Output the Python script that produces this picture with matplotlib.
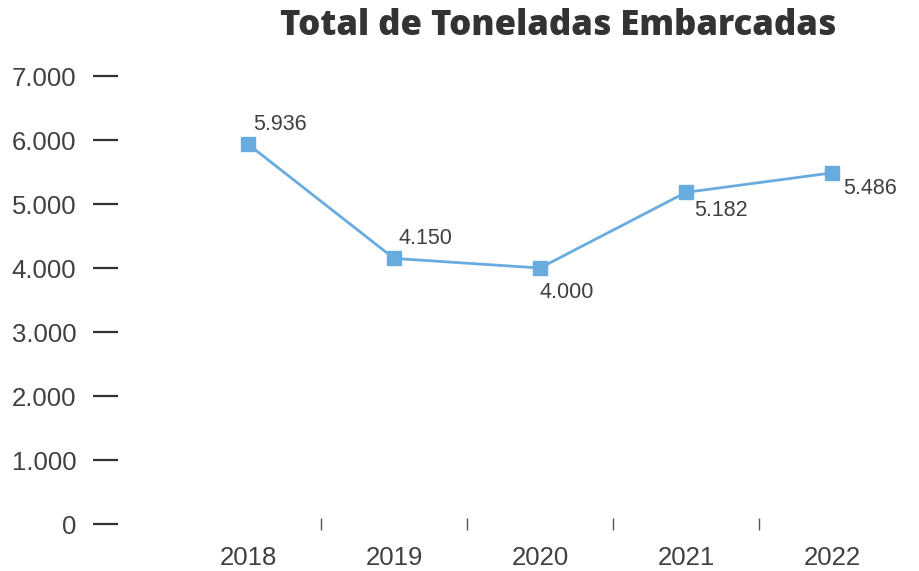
import matplotlib.pyplot as plt
from matplotlib.ticker import FuncFormatter, FixedLocator

anos = ['2018', '2019', '2020', '2021', '2022']
toneladas = [5936, 4150, 4000, 5182, 5486]
rotulos = ['5.936', '4.150', '4.000', '5.182', '5.486']
y_ticks = [0, 1000, 2000, 3000, 4000, 5000, 6000, 7000]

# deslocamento dos rótulos (pontos) em relação a cada marcador
offsets = [(4, 14), (3, 14), (0, -18), (6, -13), (8, -11)]

cor_linha = '#68ACDF'
cor_texto = '#404040'

fig = plt.figure(figsize=(9.2, 5.71), dpi=100)
ax = fig.add_axes([118 / 920, 1 - 524 / 571, (905 - 118) / 920, (524 - 76) / 571])

x = list(range(len(anos)))
ax.plot(x, toneladas, color=cor_linha, lw=2, marker='s', ms=10,
        markerfacecolor=cor_linha, markeredgecolor=cor_linha, zorder=3)

for xi, yi, txt, off in zip(x, toneladas, rotulos, offsets):
    ax.annotate(txt, (xi, yi), xytext=off, textcoords='offset points',
                ha='left', va='center', fontsize=15.5, color=cor_texto,
                family='Liberation Sans')

ax.set_xlim(-0.89, 4.5)
ax.set_ylim(0, 7000)

ax.set_yticks(y_ticks)
ax.yaxis.set_major_formatter(FuncFormatter(lambda v, p: f'{int(v):,}'.replace(',', '.')))
ax.tick_params(axis='y', length=18, width=1.6, color='#333333', pad=12,
               labelsize=18.5, labelcolor=cor_texto)
for lbl in ax.get_yticklabels():
    lbl.set_family('Liberation Sans')

ax.set_xticks(x)
ax.set_xticklabels(anos)
ax.tick_params(axis='x', which='major', length=0, pad=16,
               labelsize=18.5, labelcolor=cor_texto)
for lbl in ax.get_xticklabels():
    lbl.set_family('Liberation Sans')
ax.xaxis.set_minor_locator(FixedLocator([0.5, 1.5, 2.5, 3.5]))
ax.tick_params(axis='x', which='minor', direction='inout', length=8,
               width=1, color='#555555')

for s in ax.spines.values():
    s.set_visible(False)

fig.text(558 / 920, 1 - 26 / 571, 'Total de Toneladas Embarcadas',
         ha='center', va='center', fontsize=25, fontweight='heavy',
         family='Open Sans', color='#333333')

fig.savefig('out.png', dpi=100)
